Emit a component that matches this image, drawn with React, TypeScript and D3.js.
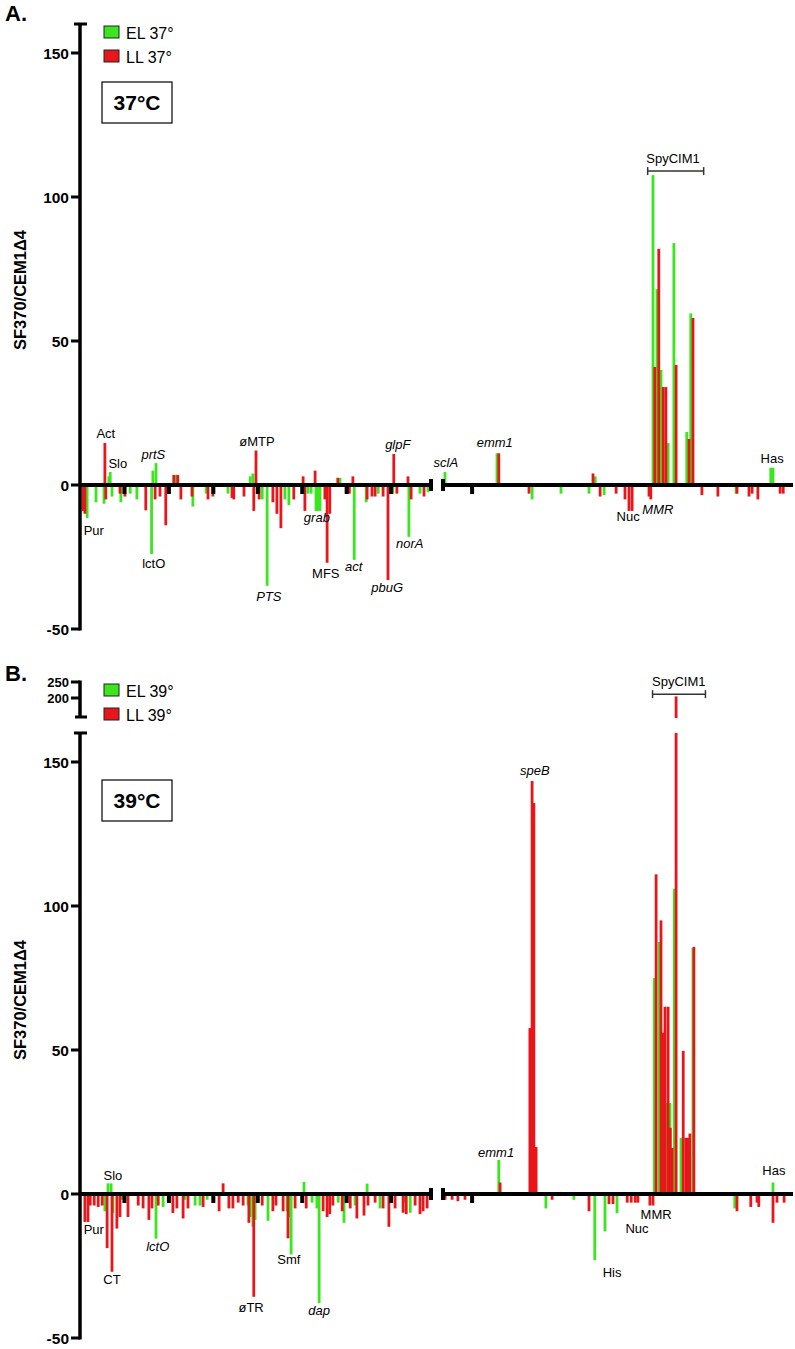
import React, { useEffect, useRef } from 'react';
import * as d3 from 'd3';

const GREEN = '#3be61e';
const RED = '#e8161b';
const FONT = '"Liberation Sans", Arial, Helvetica, sans-serif';

type Bar = [number, number]; // [genome position, SF370/CEM1Δ4 ratio]
type Label = [string, 'L' | 'R', number, number, boolean]; // text, segment, position, baseline value, italic

// Panel A, 37°C
const A_EL_LEFT: Bar[] = [
  [16, -11.5], [36, -6], [54, -6.5], [65, 3], [68, 4.5], [72, -4], [92, -6], [113, -3], [128, -5],
  [161, -24], [164, 5], [171, 7.6], [216, 3.5], [254, -7.5], [284, -3], [333, -3], [383, 3], [389, 4],
  [410, -5], [421, -35], [461, -5], [470, -7], [513, -3], [520, -3], [531, -9], [536, -9], [540, -9],
  [585, 2.5], [617, -26], [644, -6], [671, -3], [704, -3], [740, -18], [765, -3], [783, -2.5],
];
const A_LL_LEFT: Bar[] = [
  [7, -9], [11, -10], [56, 14.6], [58, -5], [90, -3], [101, -4], [148, -8.8], [169, -5], [180, -4],
  [193, -14], [211, 3.5], [220, 3.5], [227, -5], [252, -4], [288, -5], [299, -4], [342, -4.5], [346, -5],
  [369, -4], [391, -9], [396, 12], [403, -5], [434, -6], [443, -10], [452, -15], [481, -5], [502, 3],
  [506, -9], [529, 5], [551, -5], [556, -27], [562, -10], [580, 2.5], [606, -3], [614, 3], [646, -5],
  [657, -4], [664, -4], [682, -4], [693, -33], [706, 10.8], [713, -3], [738, 3], [745, -5], [774, -4],
];
const A_EL_RIGHT: Bar[] = [
  [1739, 4.5], [1856, 11], [1935, -5], [2000, -3], [2063, -3], [2077, 3], [2097, -3.5], [2207, 107.6],
  [2216, 68], [2225, 40], [2241, 14.6], [2254, 84], [2283, 18.4], [2292, 59.6], [2394, -3], [2472, 6],
  [2477, 6],
];
const A_LL_RIGHT: Bar[] = [
  [1860, 11], [1928, -3], [2072, 4], [2088, -4], [2124, -3], [2144, -5], [2153, -9], [2160, -9],
  [2198, -4], [2202, -5], [2211, 41], [2220, 82], [2230, 34], [2236, 34], [2259, 41.7], [2288, 16],
  [2297, 58], [2317, -3.5], [2353, -4], [2396, -3], [2423, -4], [2430, -3], [2443, -5], [2493, -3],
  [2500, -3],
];

// Panel B, 39°C
const B_EL_LEFT: Bar[] = [
  [56, -6], [63, 3.7], [70, 3.7], [74, -6.6], [95, -2], [171, -15.5], [187, -4.5], [236, -2], [259, -4],
  [270, -4], [286, -2], [378, -4], [383, -8], [389, -11.4], [394, -9], [423, -9.3], [466, -6], [470, -8],
  [475, -21], [504, 4.2], [522, -3], [533, -5], [538, -37.9], [581, -3], [594, -10], [619, -4],
  [646, 3.6], [675, -5], [731, -3], [743, -6.5],
];
const B_LL_LEFT: Bar[] = [
  [11, -9.7], [18, -9.7], [23, -4], [32, -4], [41, -4.5], [50, -4], [61, -18.8], [72, -27], [83, -12],
  [90, -8], [108, -8], [131, -4], [142, -5], [155, -9], [162, -5], [176, -4], [209, -6.6], [218, -5],
  [232, -8.5], [243, -5], [277, -4.5], [313, -6], [322, 3.7], [335, -5], [344, -5], [356, -3], [367, -4],
  [380, -10], [391, -35.7], [410, -4], [434, -6], [441, -4], [457, -6], [468, -15.4], [484, -5],
  [509, -5], [547, -6], [556, -8], [562, -7], [569, -4], [590, -6], [608, -5], [623, -8.5], [639, -7.5],
  [648, -4], [664, -3], [682, -5], [695, -11.4], [709, -5], [727, -6.5], [734, -7], [754, -4],
  [765, -7], [772, -6], [781, -5],
];
const B_EL_RIGHT: Bar[] = [
  [1860, 11.8], [1966, -5], [2029, -2], [2076, -23], [2099, -13], [2126, -6.7], [2210, 75], [2221, 87.5],
  [2228, 28.5], [2234, 28.5], [2239, 31.6], [2245, 31.6], [2250, 16], [2255, 106], [2270, 19.5],
  [2284, 13], [2290, 13], [2297, 85.4], [2391, -5], [2477, 4],
];
const B_LL_RIGHT: Bar[] = [
  [1739, -2], [1755, -2], [1768, -2.5], [1784, -2], [1863, 4], [1930, 57.6], [1935, 143.4],
  [1939, 135.8], [1944, 16.3], [1980, -2], [2063, -6], [2108, -3.5], [2117, -3.5], [2149, -3],
  [2158, -3], [2167, -3], [2173, -3], [2200, -4], [2207, -4], [2214, 111], [2225, 95], [2230, 56],
  [2234, 65], [2241, 65], [2246, 23], [2250, 16], [2259, 205], [2275, 49.7], [2281, 19.5], [2286, 19.5],
  [2290, 21], [2299, 85.8], [2396, -6], [2427, -4.5], [2441, -3], [2445, -4.5], [2477, -10], [2486, -3],
  [2502, -3],
];

const A_LABELS: Label[] = [
  ['Act', 'L', 58, 16.3, false], ['Slo', 'L', 85, 5.9, false], ['prtS', 'L', 165, 9, true],
  ['Pur', 'L', 31, -17.4, false], ['lctO', 'L', 166, -28.8, false], ['øMTP', 'L', 398, 13.5, false],
  ['PTS', 'L', 425, -40.3, true], ['grab', 'L', 533, -12.8, true], ['MFS', 'L', 553, -32.3, false],
  ['act', 'L', 616, -29.9, true], ['pbuG', 'L', 691, -37.2, true], ['glpF', 'L', 715, 12.5, true],
  ['norA', 'L', 742, -21.9, true], ['sclA', 'R', 1741, 6.25, true], ['emm1', 'R', 1851, 13.2, true],
  ['Nuc', 'R', 2151, -12.5, false], ['MMR', 'R', 2218, -10.1, true], ['Has', 'R', 2475, 7.6, false],
];
const B_LABELS: Label[] = [
  ['Slo', 'L', 74, 4.9, false], ['Pur', 'L', 31, -13.9, false], ['CT', 'L', 72, -31.25, false],
  ['lctO', 'L', 175, -19.8, true], ['øTR', 'L', 385, -41, false], ['Smf', 'L', 470, -24.3, false],
  ['dap', 'L', 538, -42, true], ['emm1', 'R', 1854, 12.8, true], ['speB', 'R', 1941, 145.5, true],
  ['His', 'R', 2115, -28.8, false], ['Nuc', 'R', 2171, -13.5, false], ['MMR', 'R', 2214, -8.7, false],
  ['Has', 'R', 2479, 6.6, false],
];

const Y_TICKS = [150, 100, 50, 0, -50];
const X_TICKS_LEFT = [100, 200, 300, 400, 500, 600, 700];
const X_TICKS_RIGHT = [1800];
const BREAK_TICKS = [250, 200];

const App = () => {
  const ref = useRef<SVGSVGElement>(null);

  useEffect(() => {
    const svg = d3.select(ref.current);
    svg.selectAll('*').remove();

    const xLeft = d3.scaleLinear().domain([0, 792]).range([80, 432]);
    const xRight = d3.scaleLinear().domain([1730, 2522]).range([441, 793]);

    const panels = [
      {
        letter: 'A.', letterY: 21, temp: '37°C', legend: ['EL 37°', 'LL 37°'], legendY: 26, boxY: 82,
        y: d3.scaleLinear().domain([-50, 150]).range([629, 53]), axisTop: 24, titleY: 290,
        el: [A_EL_LEFT, A_EL_RIGHT], ll: [A_LL_LEFT, A_LL_RIGHT], labels: A_LABELS,
        spy: { pos: [2195, 2321], text: 2252 }, upper: null as d3.ScaleLinear<number, number> | null,
      },
      {
        letter: 'B.', letterY: 681, temp: '39°C', legend: ['EL 39°', 'LL 39°'], legendY: 684, boxY: 780,
        y: d3.scaleLinear().domain([-50, 150]).range([1338, 762]), axisTop: 733, titleY: 1000,
        el: [B_EL_LEFT, B_EL_RIGHT], ll: [B_LL_LEFT, B_LL_RIGHT], labels: B_LABELS,
        spy: { pos: [2206, 2325], text: 2265 },
        upper: d3.scaleLinear().domain([200, 250]).range([698, 682]),
      },
    ];

    panels.forEach((p) => {
      const g = svg.append('g');
      const y = p.y;
      const y0 = y(0);
      const upperBottom = 717;

      const drawBars = (data: Bar[], xs: d3.ScaleLinear<number, number>, color: string) => {
        data.forEach(([pos, v]) => {
          const cx = xs(pos);
          let top = y(v);
          if (top < p.axisTop) {
            top = p.axisTop;
            if (p.upper) {
              const ut = p.upper(Math.min(v, 250));
              g.append('rect').attr('x', cx - 1.4).attr('y', ut).attr('width', 2.8)
                .attr('height', upperBottom + 1 - ut).attr('fill', color);
            }
          }
          g.append('rect')
            .attr('x', cx - 1.4)
            .attr('y', Math.min(top, y0))
            .attr('width', 2.8)
            .attr('height', Math.abs(top - y0))
            .attr('fill', color);
        });
      };

      [xLeft, xRight].forEach((xs, i) => {
        drawBars(p.el[i], xs, GREEN);
        drawBars(p.ll[i], xs, RED);
      });

      // x axis with break
      g.append('line').attr('x1', 80).attr('x2', 432).attr('y1', y0).attr('y2', y0)
        .attr('stroke', '#000').attr('stroke-width', 4);
      g.append('line').attr('x1', 441).attr('x2', 793).attr('y1', y0).attr('y2', y0)
        .attr('stroke', '#000').attr('stroke-width', 4);
      g.append('rect').attr('x', 429).attr('y', y0 - 6).attr('width', 4).attr('height', 12).attr('fill', '#000');
      g.append('rect').attr('x', 441).attr('y', y0 - 6).attr('width', 4).attr('height', 12).attr('fill', '#000');
      X_TICKS_LEFT.forEach((t) => {
        g.append('rect').attr('x', xLeft(t) - 2).attr('y', y0).attr('width', 4).attr('height', 9).attr('fill', '#000');
      });
      X_TICKS_RIGHT.forEach((t) => {
        g.append('rect').attr('x', xRight(t) - 2).attr('y', y0).attr('width', 4).attr('height', 9).attr('fill', '#000');
      });

      // y axis
      g.append('line').attr('x1', 80).attr('x2', 80).attr('y1', p.axisTop).attr('y2', y(-50) + 1.5)
        .attr('stroke', '#000').attr('stroke-width', 3.5);
      g.append('line').attr('x1', 74).attr('x2', 87).attr('y1', p.axisTop).attr('y2', p.axisTop)
        .attr('stroke', '#000').attr('stroke-width', 3);
      Y_TICKS.forEach((t) => {
        g.append('line').attr('x1', 71).attr('x2', 80).attr('y1', y(t)).attr('y2', y(t))
          .attr('stroke', '#000').attr('stroke-width', 3);
        g.append('text').attr('x', 69).attr('y', y(t)).attr('dy', '0.36em').attr('text-anchor', 'end')
          .attr('font-family', FONT).attr('font-weight', 'bold').attr('font-size', 15.5).text(t);
      });

      if (p.upper) {
        const u = p.upper;
        g.append('line').attr('x1', 80).attr('x2', 80).attr('y1', u(250) - 1.5).attr('y2', upperBottom)
          .attr('stroke', '#000').attr('stroke-width', 3.5);
        g.append('line').attr('x1', 75).attr('x2', 87).attr('y1', upperBottom).attr('y2', upperBottom)
          .attr('stroke', '#000').attr('stroke-width', 3);
        BREAK_TICKS.forEach((t) => {
          g.append('line').attr('x1', 71).attr('x2', 80).attr('y1', u(t)).attr('y2', u(t))
            .attr('stroke', '#000').attr('stroke-width', 3);
          g.append('text').attr('x', 69).attr('y', u(t)).attr('dy', '0.36em').attr('text-anchor', 'end')
            .attr('font-family', FONT).attr('font-weight', 'bold').attr('font-size', 13).text(t);
        });
      }

      // y title
      g.append('text')
        .attr('transform', `translate(26,${p.titleY}) rotate(-90)`)
        .attr('text-anchor', 'middle')
        .attr('font-family', FONT).attr('font-weight', 'bold').attr('font-size', 16.5)
        .text('SF370/CEM1Δ4');

      // panel letter
      g.append('text').attr('x', 5).attr('y', p.letterY).attr('font-family', FONT)
        .attr('font-weight', 'bold').attr('font-size', 22).text(p.letter);

      // legend
      [GREEN, RED].forEach((c, i) => {
        const ly = p.legendY + i * 24;
        g.append('rect').attr('x', 104).attr('y', ly).attr('width', 15).attr('height', 12)
          .attr('fill', c).attr('stroke', '#222').attr('stroke-width', 1);
        g.append('text').attr('x', 126).attr('y', ly + 13).attr('font-family', FONT)
          .attr('font-size', 16).text(p.legend[i]);
      });

      // temperature box
      g.append('rect').attr('x', 102).attr('y', p.boxY).attr('width', 70).attr('height', 41)
        .attr('fill', 'none').attr('stroke', '#000').attr('stroke-width', 1.2);
      g.append('text').attr('x', 137).attr('y', p.boxY + 28).attr('text-anchor', 'middle')
        .attr('font-family', FONT).attr('font-weight', 'bold').attr('font-size', 21).text(p.temp);

      // gene labels
      p.labels.forEach(([txt, seg, pos, v, it]) => {
        const xs = seg === 'L' ? xLeft : xRight;
        g.append('text').attr('x', xs(pos)).attr('y', y(v)).attr('text-anchor', 'middle')
          .attr('font-family', FONT).attr('font-size', 13)
          .attr('font-style', it ? 'italic' : 'normal').text(txt);
      });

      // SpyCIM1 bracket
      const sy = p.upper ? p.upper(212) : y(109);
      const sx1 = xRight(p.spy.pos[0]);
      const sx2 = xRight(p.spy.pos[1]);
      g.append('line').attr('x1', sx1).attr('x2', sx2).attr('y1', sy).attr('y2', sy)
        .attr('stroke', '#333').attr('stroke-width', 1.5);
      [sx1, sx2].forEach((sx) => {
        g.append('line').attr('x1', sx).attr('x2', sx).attr('y1', sy - 4).attr('y2', sy + 4)
          .attr('stroke', '#333').attr('stroke-width', 1.5);
      });
      g.append('text').attr('x', xRight(p.spy.text)).attr('y', sy - 8).attr('text-anchor', 'middle')
        .attr('font-family', FONT).attr('font-size', 13).text('SpyCIM1');
    });
  }, []);

  return (
    <svg
      ref={ref}
      width={795}
      height={1349}
      style={{ position: 'absolute', left: 0, top: 0, background: '#fff' }}
    />
  );
};

export default App;
